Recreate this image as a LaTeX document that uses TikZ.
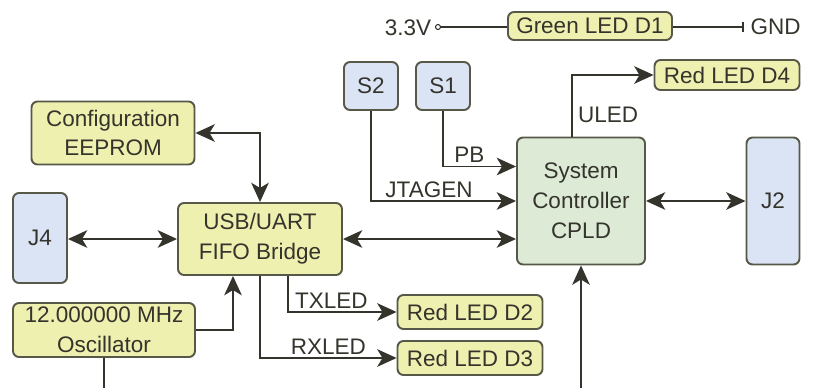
\documentclass[tikz,border=0pt]{standalone}
\usepackage{fontspec}
\setmainfont{Liberation Sans}
\usetikzlibrary{arrows.meta,positioning,calc}

\definecolor{ledfill}{RGB}{238,240,176}
\definecolor{swfill}{RGB}{218,228,244}
\definecolor{cpldfill}{RGB}{220,234,214}
\definecolor{edge}{RGB}{88,88,72}
\definecolor{ink}{RGB}{52,52,44}

\begin{document}
\begin{tikzpicture}[x=0.02cm, y=-0.02cm,
    font=\fontsize{12.8}{17}\selectfont, text=ink,
    box/.style={draw=edge, line width=1.1pt, rounded corners=0.12cm, align=center, inner sep=0pt},
    ledbox/.style={box, fill=ledfill},
    swbox/.style={box, fill=swfill},
    cpldbox/.style={box, fill=cpldfill},
    wire/.style={draw=ink, line width=1.1pt},
    sig/.style={wire, -{Stealth[length=11pt, width=10pt, inset=3pt]}},
    bus/.style={wire, {Stealth[length=11pt, width=10pt, inset=3pt]}-{Stealth[length=11pt, width=10pt, inset=3pt]}},
    signame/.style={inner sep=1.5pt}]
    \useasboundingbox (0,0) rectangle (815,388);

    % Power LED
    \node (vcc) at (408,28) {3.3V};
    \node[circle, draw=ink, line width=0.6pt, inner sep=0pt, minimum size=0.1cm] (pin) at (438,27) {};
    \node[ledbox, minimum width=3.28cm, minimum height=0.56cm] (d1) at (590,26) {Green LED D1};
    \coordinate (gnd) at (743,27);
    \node[right=0.03cm of gnd] (gndlbl) {GND};
    \draw[wire] (pin.east) -- (pin.east -| d1.west);
    \draw[wire] (d1.east |- gnd) -- (gnd);
    \draw[wire] ([yshift=-0.1cm]gnd) -- ([yshift=0.1cm]gnd);

    % Switches and connectors
    \node[swbox, minimum width=1.08cm, minimum height=0.96cm] (s2) at (371,86) {S2};
    \node[swbox, minimum width=1.08cm, minimum height=0.96cm] (s1) at (443,86) {S1};
    \node[swbox, minimum width=1.08cm, minimum height=1.8cm] (j4) at (40,238) {J4};
    \node[swbox, minimum width=1.06cm, minimum height=2.54cm] (j2) at (773,201) {J2};

    % Main blocks
    \node[ledbox, minimum width=3.26cm, minimum height=1.26cm] (eeprom) at (113,133) {Configuration\\EEPROM};
    \node[ledbox, minimum width=3.28cm, minimum height=1.44cm] (bridge) at (260,239) {USB/UART\\FIFO Bridge};
    \node[ledbox, minimum width=3.64cm, minimum height=1.08cm] (osc) at (104,330) {12.000000 MHz\\Oscillator};
    \node[cpldbox, minimum width=2.56cm, minimum height=2.54cm] (cpld) at (581,201) {System\\Controller\\CPLD};

    % LEDs
    \node[ledbox, minimum width=2.9cm, minimum height=0.6cm] (d4) at (727,75) {Red LED D4};
    \node[ledbox, minimum width=2.9cm, minimum height=0.68cm] (d2) at (470,312) {Red LED D2};
    \node[ledbox, minimum width=2.9cm, minimum height=0.68cm] (d3) at (470,358) {Red LED D3};

    % Buses
    \draw[bus] (eeprom.east) -| (bridge.north);
    \draw[bus] (j4.east |- bridge.west) -- (bridge.west);
    \draw[bus] (bridge.east) -- (bridge.east -| cpld.west);
    \draw[bus] (cpld.east) -- (j2.west);

    % Signals
    \draw[sig] (s2.south) |- node[signame, above, pos=0.7] {JTAGEN} (cpld.west);
    \draw[sig] (s1.south) |- node[signame, above, pos=0.68] {PB} ([yshift=0.69cm]cpld.west);
    \draw[sig] ([xshift=-0.18cm]cpld.north) |- node[right, inner sep=3pt, pos=0.18] {ULED} (d4.west);
    \draw[sig] (osc.east) -| ([xshift=-0.54cm]bridge.south);
    \draw[sig] ([xshift=0.56cm]bridge.south) |- node[signame, above, pos=0.7] {TXLED} (d2.west);
    \draw[sig] (bridge.south) |- node[signame, above, pos=0.75] {RXLED} (d3.west);

    % Off the bottom edge
    \coordinate (botl) at (104,392);
    \coordinate (botr) at (581,392);
    \draw[wire] (osc.south) -- (botl);
    \draw[sig] (botr) -- (cpld.south);
\end{tikzpicture}
\end{document}
